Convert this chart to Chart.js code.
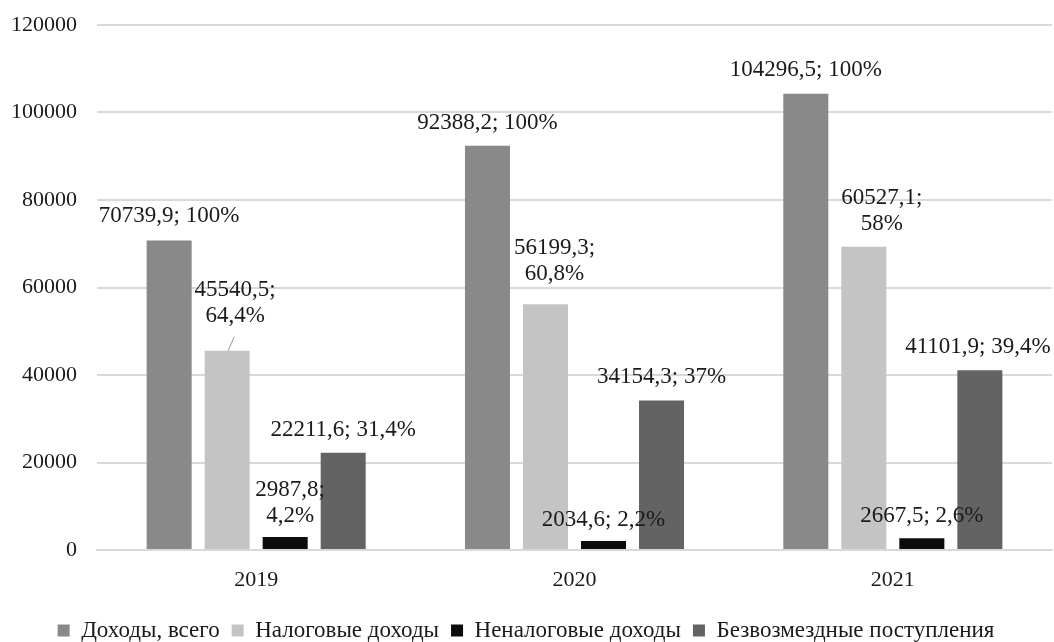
<!DOCTYPE html>
<html>
<head>
    <title>Доходы бюджета</title>
    <style>
        body { margin: 0; background: #fff; overflow: hidden; }
        #wrap { width: 1054px; height: 642px; }
    </style>
</head>
<body>
    <div id="wrap"><canvas id="revChart" width="1054" height="642"></canvas></div>

    <script src="https://cdn.jsdelivr.net/npm/chart.js"></script>
    <script>
        // data
        const years = ['2019', '2020', '2021'];
        const seriesNames = ['Доходы, всего', 'Налоговые доходы', 'Неналоговые доходы', 'Безвозмездные поступления'];
        const totalIncome = [70739.9, 92388.2, 104296.5];
        const taxIncome = [45540.5, 56199.3, 69300];   // 2021 bar is drawn taller than its label
        const nonTaxIncome = [2987.8, 2034.6, 2667.5];
        const transfers = [22211.6, 34154.3, 41101.9];
        const yTicks = [0, 20000, 40000, 60000, 80000, 100000, 120000];

        const totalLabels = [['70739,9; 100%'], ['92388,2; 100%'], ['104296,5; 100%']];
        const taxLabels = [['45540,5;', '64,4%'], ['56199,3;', '60,8%'], ['60527,1;', '58%']];
        const nonTaxLabels = [['2987,8;', '4,2%'], ['2034,6; 2,2%'], ['2667,5; 2,6%']];
        const transferLabels = [['22211,6; 31,4%'], ['34154,3; 37%'], ['41101,9; 39,4%']];

        const colors = ['#898989', '#c4c4c4', '#0c0c0c', '#636363'];
        const serif = 'Liberation Serif';
        const textColor = '#1a1a1a';

        // label placement relative to bar top: [dx, dy of first line]
        const labelShift = [
            [[0, -25], [0, -23], [0, -24]],
            [[8, -61], [9, -56], [18, -49]],
            [[5, -47], [0, -21], [0, -22]],
            [[0, -23], [0, -24], [-2, -23]]
        ];
        const allLabels = [totalLabels, taxLabels, nonTaxLabels, transferLabels];

        const barLabels = {
            id: 'barLabels',
            afterDatasetsDraw(chart) {
                const ctx = chart.ctx;
                ctx.save();
                ctx.font = '23px "' + serif + '"';
                ctx.fillStyle = textColor;
                ctx.textAlign = 'center';
                ctx.textBaseline = 'middle';
                chart.data.datasets.forEach((ds, i) => {
                    const meta = chart.getDatasetMeta(i);
                    meta.data.forEach((bar, j) => {
                        const [dx, dy] = labelShift[i][j];
                        const lines = allLabels[i][j];
                        lines.forEach((t, k) => {
                            ctx.fillText(t, bar.x + dx, bar.y + dy + k * 26);
                        });
                        // leader line for the 2019 tax label
                        if (i === 1 && j === 0) {
                            ctx.strokeStyle = '#9a9a9a';
                            ctx.lineWidth = 1;
                            ctx.beginPath();
                            ctx.moveTo(bar.x + 7, bar.y - 14);
                            ctx.lineTo(bar.x + 1, bar.y);
                            ctx.stroke();
                        }
                    });
                });
                ctx.restore();
            }
        };

        const ctx = document.getElementById('revChart').getContext('2d');
        const chart = new Chart(ctx, {
            type: 'bar',
            data: {
                labels: years,
                datasets: [totalIncome, taxIncome, nonTaxIncome, transfers].map((vals, i) => ({
                    label: seriesNames[i],
                    data: vals,
                    backgroundColor: colors[i],
                    borderWidth: 0,
                    categoryPercentage: 0.729,
                    barPercentage: 0.776
                }))
            },
            options: {
                responsive: false,
                animation: false,
                layout: { padding: { top: 25, right: 2, left: 0, bottom: -10 } },
                plugins: {
                    tooltip: { enabled: false },
                    legend: {
                        position: 'bottom',
                        labels: {
                            font: { family: serif, size: 23 },
                            color: textColor,
                            boxWidth: 12,
                            boxHeight: 12,
                            padding: 12
                        }
                    }
                },
                scales: {
                    x: {
                        afterFit: (s) => { s.height = 57; },
                        grid: { display: false, drawTicks: false },
                        border: { color: '#d9d9d9', width: 2 },
                        ticks: { font: { family: serif, size: 22 }, color: textColor, padding: 17 }
                    },
                    y: {
                        min: 0,
                        max: 120000,
                        afterBuildTicks: (s) => { s.ticks = yTicks.map(v => ({ value: v })); },
                        afterFit: (s) => { s.width = 97; s.paddingTop = 0; s.paddingBottom = 0; },
                        grid: { color: '#d9d9d9', lineWidth: 2, drawTicks: false },
                        border: { display: false },
                        ticks: {
                            font: { family: serif, size: 22 },
                            color: textColor,
                            padding: 20,
                            callback: (v) => String(v)
                        }
                    }
                }
            },
            plugins: [barLabels]
        });
    </script>
</body>
</html>
